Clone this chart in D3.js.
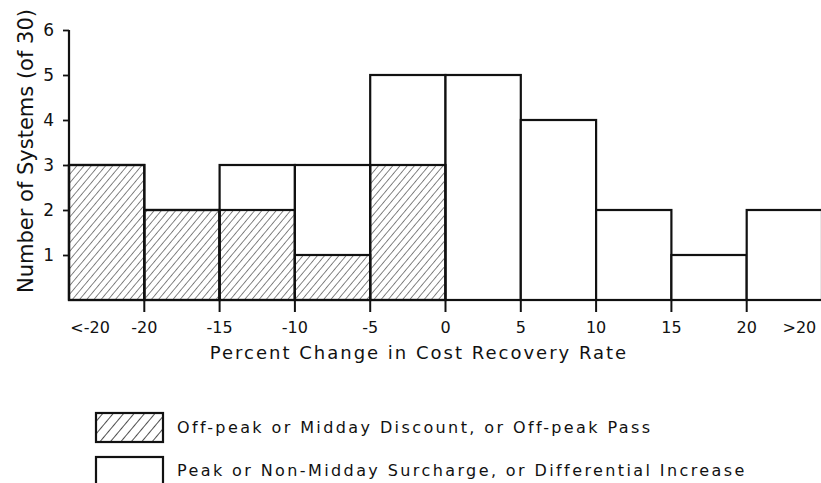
<!DOCTYPE html>
<html>
<head>
<meta charset="utf-8">
<script src="https://cdn.jsdelivr.net/npm/d3@7"></script>
<style>
  body { margin: 0; background: #fff; }
  svg text { font-family: "DejaVu Sans", sans-serif; fill: #111; }
</style>
</head>
<body>
<svg id="chart" width="821" height="483"></svg>
<script>
// bins of percent change, counts of systems per bin
var bins = ["<-20", "-20 to -15", "-15 to -10", "-10 to -5", "-5 to 0",
            "0 to 5", "5 to 10", "10 to 15", "15 to 20", ">20"];
var offPeak = [3, 2, 2, 1, 3, 0, 0, 0, 0, 0];
var peak    = [0, 0, 1, 2, 2, 5, 4, 2, 1, 2];
var edgeLabels = ["-20", "-15", "-10", "-5", "0", "5", "10", "15", "20"];
var endLabels = ["<-20", ">20"];
var yTicks = [1, 2, 3, 4, 5, 6];

var svg = d3.select("#chart");

var x = d3.scaleLinear().domain([0, bins.length]).range([69, 822]);
var y = d3.scaleLinear().domain([0, 6]).range([300, 30]);

// hatch patterns
var defs = svg.append("defs");
defs.append("pattern")
    .attr("id", "hatch")
    .attr("patternUnits", "userSpaceOnUse")
    .attr("width", 5.5).attr("height", 6)
    .attr("patternTransform", "rotate(40)")
    .append("line")
    .attr("x1", 0).attr("y1", 0).attr("x2", 0).attr("y2", 6)
    .attr("stroke", "#333").attr("stroke-width", 1.2);
defs.append("pattern")
    .attr("id", "hatchBig")
    .attr("patternUnits", "userSpaceOnUse")
    .attr("width", 8).attr("height", 8)
    .attr("patternTransform", "rotate(40)")
    .append("line")
    .attr("x1", 0).attr("y1", 0).attr("x2", 0).attr("y2", 8)
    .attr("stroke", "#222").attr("stroke-width", 1.6);

var data = bins.map(function(b, i) {
    return { bin: b, i: i, off: offPeak[i], total: offPeak[i] + peak[i] };
});

// total outline bars
svg.selectAll("rect.total")
    .data(data.filter(function(d) { return d.total > 0; }))
    .enter()
    .append("rect")
    .attr("class", "total")
    .attr("x", function(d) { return x(d.i); })
    .attr("y", function(d) { return y(d.total); })
    .attr("width", function(d) { return x(d.i + 1) - x(d.i); })
    .attr("height", function(d) { return y(0) - y(d.total); })
    .attr("fill", "#fff")
    .attr("stroke", "#111")
    .attr("stroke-width", 2.2);

// hatched off-peak part
svg.selectAll("rect.off")
    .data(data.filter(function(d) { return d.off > 0; }))
    .enter()
    .append("rect")
    .attr("class", "off")
    .attr("x", function(d) { return x(d.i); })
    .attr("y", function(d) { return y(d.off); })
    .attr("width", function(d) { return x(d.i + 1) - x(d.i); })
    .attr("height", function(d) { return y(0) - y(d.off); })
    .attr("fill", "url(#hatch)")
    .attr("stroke", "#111")
    .attr("stroke-width", 2.2);

// baseline
svg.append("line")
    .attr("x1", x(0)).attr("x2", x(bins.length))
    .attr("y1", y(0)).attr("y2", y(0))
    .attr("stroke", "#111").attr("stroke-width", 1.6);

// x ticks at bin edges
svg.selectAll("line.xtick")
    .data(edgeLabels)
    .enter()
    .append("line")
    .attr("class", "xtick")
    .attr("x1", function(d, i) { return x(i + 1); })
    .attr("x2", function(d, i) { return x(i + 1); })
    .attr("y1", y(0)).attr("y2", y(0) + 12)
    .attr("stroke", "#111").attr("stroke-width", 2);

svg.selectAll("text.xlab")
    .data(edgeLabels)
    .enter()
    .append("text")
    .attr("class", "xlab")
    .attr("x", function(d, i) { return x(i + 1); })
    .attr("y", 333)
    .attr("text-anchor", "middle")
    .style("font-size", "16px")
    .text(function(d) { return d; });

svg.selectAll("text.endlab")
    .data(endLabels)
    .enter()
    .append("text")
    .attr("class", "endlab")
    .attr("x", function(d, i) { return i === 0 ? x(0.28) : x(bins.length - 0.3); })
    .attr("y", 333)
    .attr("text-anchor", "middle")
    .style("font-size", "16px")
    .text(function(d) { return d; });

// y axis
var yAxis = d3.axisLeft(y).tickValues(yTicks).tickFormat(d3.format("d"))
    .tickSize(6).tickPadding(9);
var gy = svg.append("g")
    .attr("transform", "translate(" + x(0) + ",0)")
    .call(yAxis);
gy.select(".domain").attr("stroke", "#111").attr("stroke-width", 2.2)
    .attr("d", "M0," + y(6) + "V" + y(0));
gy.selectAll(".tick line").attr("stroke", "#111").attr("stroke-width", 1.8);
gy.selectAll(".tick text")
    .style("font-size", "17px")
    .style("font-family", "DejaVu Sans, sans-serif")
    .attr("fill", "#111");

// axis titles
svg.append("text")
    .attr("x", 419)
    .attr("y", 359)
    .attr("text-anchor", "middle")
    .style("font-size", "18px")
    .style("letter-spacing", "2px")
    .text("Percent Change in Cost Recovery Rate");

svg.append("text")
    .attr("transform", "translate(33,151) rotate(-90)")
    .attr("text-anchor", "middle")
    .style("font-size", "21px")
    .text("Number of Systems (of 30)");

// legend
var legend = [
    { label: "Off-peak or Midday Discount, or Off-peak Pass", fill: "url(#hatchBig)", y: 413, h: 29, ty: 433 },
    { label: "Peak or Non-Midday Surcharge, or Differential Increase", fill: "#fff", y: 457, h: 30, ty: 476 }
];
var lg = svg.selectAll("g.legend")
    .data(legend)
    .enter()
    .append("g")
    .attr("class", "legend");
lg.append("rect")
    .attr("x", 96).attr("y", function(d) { return d.y; })
    .attr("width", 67).attr("height", function(d) { return d.h; })
    .attr("fill", function(d) { return d.fill; })
    .attr("stroke", "#111").attr("stroke-width", 2.2);
lg.append("text")
    .attr("x", 177)
    .attr("y", function(d) { return d.ty; })
    .style("font-size", "16px")
    .style("letter-spacing", "2.4px")
    .text(function(d) { return d.label; });
</script>
</body>
</html>
